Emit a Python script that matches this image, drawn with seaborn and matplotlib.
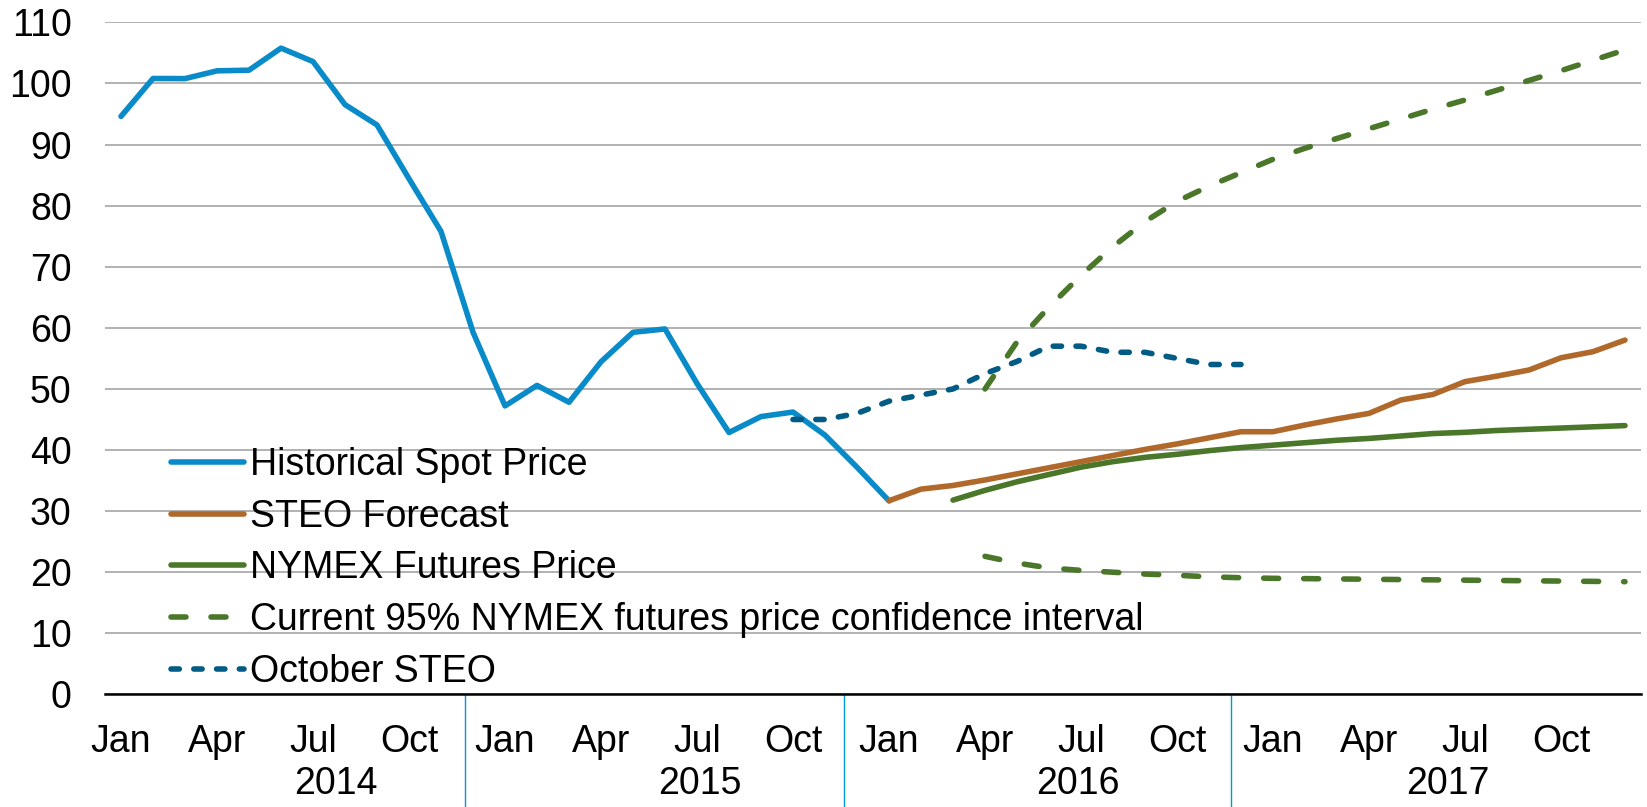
import matplotlib
matplotlib.use("Agg")
import matplotlib.pyplot as plt
import matplotlib.transforms as mtransforms
import seaborn as sns
import pandas as pd
import numpy as np

# WTI crude oil price, dollars per barrel, month 0 = Jan 2014
hist_spot = [94.62, 100.82, 100.80, 102.07, 102.18, 105.79, 103.59, 96.54, 93.21, 84.40, 75.79, 59.29,
             47.22, 50.58, 47.82, 54.45, 59.27, 59.82, 50.90, 42.87, 45.48, 46.22, 42.44, 37.19,
             31.68]
steo_forecast = [31.7, 33.6, 34.2, 35.1, 36.1, 37.1, 38.1, 39.1, 40.1, 41.0, 42.0, 43.0,
                 43.0, 44.1, 45.1, 46.0, 48.2, 49.1, 51.2, 52.1, 53.1, 55.1, 56.1, 58.0]
nymex_futures = [31.8, 33.4, 34.8, 36.0, 37.2, 38.1, 38.8, 39.3, 39.9, 40.4,
                 40.8, 41.2, 41.6, 41.9, 42.3, 42.7, 42.9, 43.2, 43.4, 43.6, 43.8, 44.0]
ci_upper = [50.0, 57.7, 63.4, 68.6, 73.3, 77.4, 80.7, 83.2, 85.4,
            87.6, 89.4, 91.0, 92.6, 94.2, 95.8, 97.3, 98.9, 100.5, 102.1, 103.8, 105.5]
ci_lower = [22.6, 21.5, 20.7, 20.3, 20.0, 19.7, 19.5, 19.25, 19.1,
            19.0, 18.95, 18.9, 18.85, 18.8, 18.75, 18.7, 18.65, 18.6, 18.55, 18.5, 18.45]
october_steo = [45, 45, 46, 48, 49, 50, 52.5, 54.5, 57, 57, 56, 56, 55, 54, 54]

# first month of each series (Jan 2014 = 0)
hist_start, steo_start, nymex_start, ci_start, oct_start = 0, 24, 26, 27, 21

month_labels = ["Jan", "Apr", "Jul", "Oct"] * 4
years = ["2014", "2015", "2016", "2017"]


def series(values, start):
    # put each monthly value in the middle of its month slot
    return pd.DataFrame({"month": np.arange(start, start + len(values)) + 0.5,
                         "price": values})


sns.set_style("white")
plt.rcParams["font.family"] = ["Liberation Sans", "DejaVu Sans"]
plt.rcParams["text.color"] = "black"
plt.rcParams["xtick.color"] = "black"
plt.rcParams["ytick.color"] = "black"

fig = plt.figure(figsize=(16.47, 8.07), dpi=100)
ax = fig.add_axes([105 / 1647, 1 - 694.4 / 807, 1536 / 1647, 672 / 807])

lw = 4.0
long_dash = (0, (2.7, 4.5))
short_dash = (0, (1.5, 2.6))
sns.lineplot(data=series(hist_spot, hist_start), x="month", y="price", ax=ax,
             color="#0A8BC9", lw=lw, label="Historical Spot Price")
sns.lineplot(data=series(steo_forecast, steo_start), x="month", y="price", ax=ax,
             color="#B0692A", lw=lw, label="STEO Forecast")
sns.lineplot(data=series(nymex_futures, nymex_start), x="month", y="price", ax=ax,
             color="#4A7729", lw=lw, label="NYMEX Futures Price")
sns.lineplot(data=series(ci_upper, ci_start), x="month", y="price", ax=ax,
             color="#4A7729", lw=lw, linestyle=long_dash, dash_capstyle="round",
             label="Current 95% NYMEX futures price confidence interval")
sns.lineplot(data=series(ci_lower, ci_start), x="month", y="price", ax=ax,
             color="#4A7729", lw=lw, linestyle=long_dash, dash_capstyle="round",
             label="_nolegend_")
sns.lineplot(data=series(october_steo, oct_start), x="month", y="price", ax=ax,
             color="#005B85", lw=lw, linestyle=short_dash, dash_capstyle="round",
             label="October STEO")

ax.set_xlim(0, 48)
ax.set_ylim(0, 110)
ax.set_xlabel("")
ax.set_ylabel("")

ax.set_yticks(range(0, 111, 10))
ax.tick_params(axis="y", length=0, pad=24, labelsize=27, labelcolor="black")
ax.grid(axis="y", color="#ABABAB", lw=1.3)
ax.grid(axis="x", visible=False)
ax.set_axisbelow(True)

ax.set_xticks(range(0, 49, 3))
ax.set_xticklabels([])
ax.tick_params(axis="x", which="major", length=8.6, width=1.3, color="black", direction="out")
ax.set_xticks(np.arange(0, 48, 3) + 0.5, minor=True)
ax.set_xticklabels(month_labels, minor=True)
ax.tick_params(axis="x", which="minor", length=0, pad=21, labelsize=27, labelcolor="black")

for side in ["left", "right", "top"]:
    ax.spines[side].set_visible(False)
ax.spines["bottom"].set_color("black")
ax.spines["bottom"].set_linewidth(1.8)

# year separators and year labels under the month labels
trans = mtransforms.blended_transform_factory(ax.transData, ax.transAxes)
for xs in [11.25, 23.1, 35.2]:
    ax.plot([xs, xs], [0, -0.17], transform=trans, color="#0096D7", lw=1, clip_on=False)
for xp, yr in zip([7.2, 18.6, 30.4, 41.95], years):
    ax.text(xp, -0.1335, yr, transform=trans, ha="center", va="center", fontsize=27,
            color="black")

ax.legend(loc="upper left", bbox_to_anchor=(171 / 1647, 1 - 447 / 807),
          bbox_transform=fig.transFigure, frameon=False, fontsize=27,
          handlelength=1.95, handletextpad=0.17, labelspacing=0.42,
          borderpad=0, borderaxespad=0)

fig.savefig("out.png", dpi=100)
